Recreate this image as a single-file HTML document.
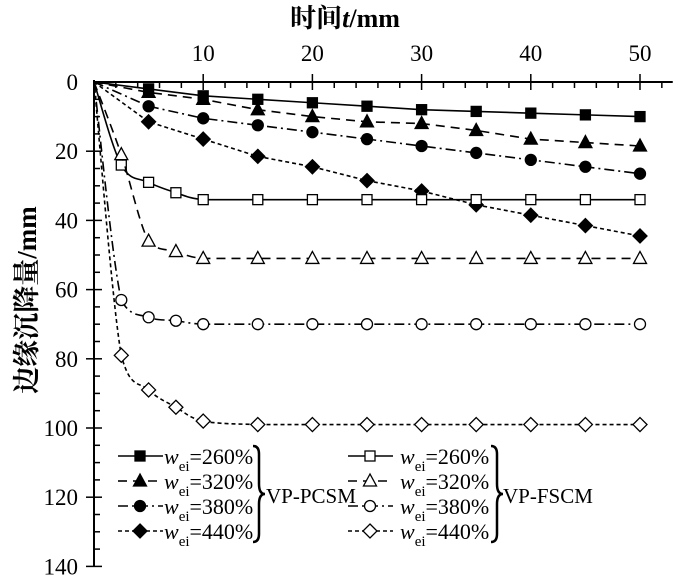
<!DOCTYPE html>
<html><head><meta charset="utf-8"><style>
html,body{margin:0;padding:0;background:#fff;}
svg{display:block;font-family:"Liberation Serif","Noto Serif CJK SC",serif;}
</style></head><body>
<svg id="chart" width="700" height="584" viewBox="0 0 700 584">
<g id="axes"></g>
<g id="series"></g>
<g id="legend"></g>
</svg>
<script>
const tPcsm = [0,5,10,15,20,25,30,35,40,45,50];
const tFscm = [0,2.5,5,7.5,10,15,20,25,30,35,40,45,50];
const pcsm260 = [0,2,4,5,6,7,8,8.5,9,9.5,10];
const pcsm320 = [0,3,5,8,10,11.5,12,14,16.5,17.5,18.5];
const pcsm380 = [0,7,10.5,12.5,14.5,16.5,18.5,20.5,22.5,24.5,26.5];
const pcsm440 = [0,11.5,16.5,21.5,24.5,28.5,31.5,35.5,38.5,41.5,44.5];
const fscm260 = [0,24,29,32,34,34,34,34,34,34,34,34,34];
const fscm320 = [0,21,46,49,51,51,51,51,51,51,51,51,51];
const fscm380 = [0,63,68,69,70,70,70,70,70,70,70,70,70];
const fscm440 = [0,79,89,94,98,99,99,99,99,99,99,99,99];
const xTicks = [10,20,30,40,50];
const yTicks = [0,20,40,60,80,100,120,140];

const NS="http://www.w3.org/2000/svg";
const X0=94, XS=10.92, Y0=82, YS=3.46;
const xs=t=>X0+t*XS, ys=v=>Y0+v*YS;
function mk(tag,attrs,parent){const e=document.createElementNS(NS,tag);for(const k in attrs)e.setAttribute(k,attrs[k]);parent.appendChild(e);return e;}
const axes=document.getElementById('axes'), ser=document.getElementById('series'), leg=document.getElementById('legend');

let ax=mk('line',{x1:X0,y1:Y0,x2:xs(53),y2:Y0,stroke:'#000','stroke-width':2},axes);


let ay=mk('line',{x1:X0,y1:Y0-2,x2:X0,y2:ys(140),stroke:'#000','stroke-width':2},axes);


for(let t=2;t<=52;t+=2){const maj=t%10===0;mk('line',{x1:xs(t),y1:Y0-(maj?8:0),x2:xs(t),y2:Y0+(maj?8:6),stroke:'#000','stroke-width':1.5},axes);}
for(let v=5;v<=140;v+=5){const maj=v%20===0;mk('line',{x1:X0-(maj?8:0),y1:ys(v),x2:X0+(maj?8:6),y2:ys(v),stroke:'#000','stroke-width':1.5},axes);}
xTicks.forEach(t=>{const e=mk('text',{x:xs(t),y:61,'text-anchor':'middle','font-size':23},axes);e.textContent=t;

});
yTicks.forEach(v=>{const e=mk('text',{x:78,y:ys(v)+8,'text-anchor':'end','font-size':23},axes);e.textContent=v;

});
let xt=mk('text',{x:345,y:27,'text-anchor':'middle','font-size':26,'font-weight':'bold'},axes);
xt.innerHTML='时间<tspan font-style="italic">t</tspan>/mm';


let yt=mk('text',{x:0,y:0,'text-anchor':'middle','font-size':27,'font-weight':'bold',transform:'translate(36,300) rotate(-90)'},axes);
yt.textContent='边缘沉降量/mm';



function marker(type,filled,x,y,g){
  const f=filled?'#000':'#fff', s={stroke:'#000','stroke-width':1.3,fill:f};
  let e;
  if(type==='sq') e=mk('rect',Object.assign({x:x-5,y:y-5,width:10,height:10},s),g);
  else if(type==='tri') e=mk('polygon',Object.assign({points:`${x},${y-7} ${x-6.5},${y+5} ${x+6.5},${y+5}`},s),g);
  else if(type==='ci') e=mk('circle',Object.assign({cx:x,cy:y,r:5.5},s),g);
  else e=mk('polygon',Object.assign({points:`${x},${y-7} ${x+7},${y} ${x},${y+7} ${x-7},${y}`},s),g);
  return e;
}
const dashes={sq:'',tri:'9,6',ci:'10,4,2,4',dia:'4,3'};
const clamp=(v,a,b)=>Math.max(Math.min(a,b),Math.min(Math.max(a,b),v));
function drawSeries(name,tArr,vals,type,filled){
  const g=mk('g',{},ser);
  
  
  const pts=tArr.map((t,i)=>[xs(t),ys(vals[i])]);
  let d;
  if(filled) d='M'+pts.map(p=>p.join(',')).join(' L');
  else {
    d='M'+pts[0].join(',');
    for(let i=0;i<pts.length-1;i++){const p0=pts[i-1]||pts[i],p1=pts[i],p2=pts[i+1],p3=pts[i+2]||p2;
      const c1y=clamp(p1[1]+(p2[1]-p0[1])/6,p1[1],p2[1]), c2y=clamp(p2[1]-(p3[1]-p1[1])/6,p1[1],p2[1]);
      d+=` C${p1[0]+(p2[0]-p0[0])/6},${c1y} ${p2[0]-(p3[0]-p1[0])/6},${c2y} ${p2[0]},${p2[1]}`;}
  }
  const l=mk('path',{d:d,fill:'none',stroke:'#000','stroke-width':1.6,'stroke-dasharray':dashes[type]},g);
  
  
  pts.forEach((p,i)=>{if(i===0)return;const m=marker(type,filled,p[0],p[1],g);
    
    });
}
drawSeries('pcsm-260',tPcsm,pcsm260,'sq',true);
drawSeries('pcsm-320',tPcsm,pcsm320,'tri',true);
drawSeries('pcsm-380',tPcsm,pcsm380,'ci',true);
drawSeries('pcsm-440',tPcsm,pcsm440,'dia',true);
drawSeries('fscm-260',tFscm,fscm260,'sq',false);
drawSeries('fscm-320',tFscm,fscm320,'tri',false);
drawSeries('fscm-380',tFscm,fscm380,'ci',false);
drawSeries('fscm-440',tFscm,fscm440,'dia',false);

const labels=['260%','320%','380%','440%'], types=['sq','tri','ci','dia'];
function legendCol(x0,filled,group){
  labels.forEach((lb,i)=>{const y=456+i*25;
    const g=mk('g',{},leg);
    
    
    mk('line',{x1:x0,y1:y,x2:x0+45,y2:y,stroke:'#000','stroke-width':1.6,'stroke-dasharray':dashes[types[i]]},g);
    marker(types[i],filled,x0+22,y,g);
    const t=mk('text',{x:x0+(filled?46:52),y:y+8,'font-size':22},g);
    t.innerHTML='<tspan font-style="italic">w</tspan><tspan font-size="15" dy="7">ei</tspan><tspan dy="-7">='+lb+'</tspan>';
  });
}
legendCol(118,true,'pcsm');
legendCol(348,false,'fscm');
function brace(x,name,label,lx){
  const p=mk('path',{d:`M${x},446 q6,0 6,8 v30 q0,10 6,10 q-6,0 -6,10 v30 q0,8 -6,8`,fill:'none',stroke:'#000','stroke-width':2.5},leg);
  
  
  const t=mk('text',{x:lx,y:503,'font-size':21},leg);t.textContent=label;
  
  
}
brace(253,'pcsm','VP-PCSM',266);
brace(491,'fscm','VP-FSCM',503);
</script>
</body></html>
